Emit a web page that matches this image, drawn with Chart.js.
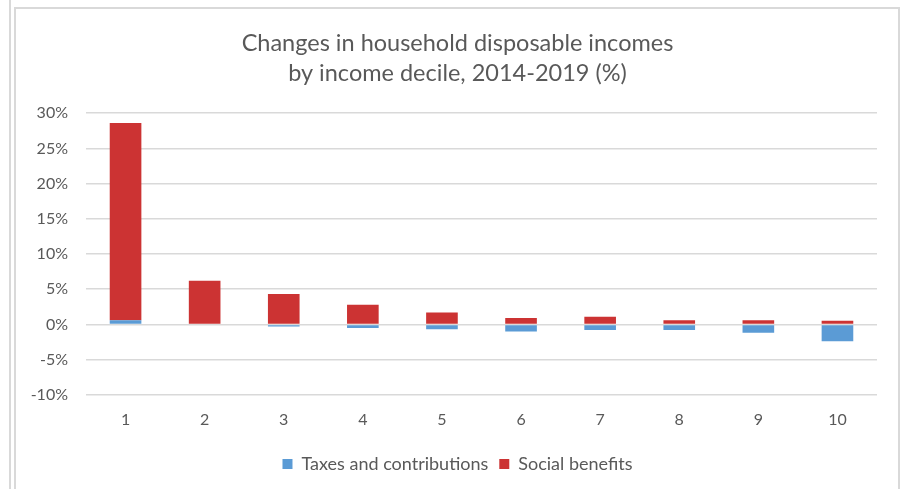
<!DOCTYPE html>
<html>
<head>
<meta charset="utf-8">
<script src="https://cdn.jsdelivr.net/npm/chart.js@4"></script>
<style>
  html, body { margin: 0; padding: 0; background: #fff; }
  #wrap { position: relative; width: 901px; height: 489px; overflow: hidden; }
  .edge { position: absolute; background: #d9d9d9; }
  canvas { position: absolute; left: 0; top: 0; }
</style>
</head>
<body>
<div id="wrap">
  <div class="edge" style="left:9px;top:0;width:2px;height:489px"></div>
  <div class="edge" style="left:14px;top:7px;width:2px;height:482px"></div>
  <div class="edge" style="left:14px;top:7px;width:886px;height:2px"></div>
  <div class="edge" style="left:898px;top:7px;width:2px;height:482px"></div>
  <canvas id="c" width="901" height="489"></canvas>
</div>
<script>
// Income deciles
const deciles = ['1', '2', '3', '4', '5', '6', '7', '8', '9', '10'];
// Contribution of taxes and contributions (percentage points)
const taxes = [0.6, 0.0, -0.3, -0.5, -0.7, -1.0, -0.8, -0.8, -1.2, -2.4];
// Contribution of social benefits (percentage points)
const benefits = [28.0, 6.2, 4.3, 2.8, 1.7, 0.9, 1.1, 0.6, 0.6, 0.5];
// Value axis ticks
const yTicks = [-10, -5, 0, 5, 10, 15, 20, 25, 30];

const textColor = '#595959';
const gridColor = '#d9d9d9';
const fontFamily = 'Lato, "Open Sans", sans-serif';

new Chart(document.getElementById('c'), {
  type: 'bar',
  data: {
    labels: deciles,
    datasets: [
      { label: 'Taxes and contributions', data: taxes, backgroundColor: '#5B9BD5',
        barPercentage: 0.4, categoryPercentage: 1.0 },
      { label: 'Social benefits', data: benefits, backgroundColor: '#CC3333',
        barPercentage: 0.4, categoryPercentage: 1.0 }
    ]
  },
  options: {
    responsive: false,
    animation: false,
    layout: { padding: { left: 14, right: 0, top: 0, bottom: 6 } },
    plugins: {
      title: {
        display: true,
        text: ['Changes in household disposable incomes', 'by income decile, 2014-2019 (%)'],
        color: textColor,
        font: { family: fontFamily, size: 23.5, weight: 'normal', lineHeight: 1.28 },
        padding: { top: 28, bottom: 25 }
      },
      legend: {
        position: 'bottom',
        labels: {
          color: textColor,
          boxWidth: 10,
          boxHeight: 10,
          padding: 11,
          font: { family: fontFamily, size: 18 }
        }
      },
      tooltip: { enabled: false }
    },
    scales: {
      x: {
        stacked: true,
        grid: { display: false, drawTicks: false },
        border: { display: false },
        ticks: { color: textColor, font: { family: fontFamily, size: 16 }, padding: 15 }
      },
      y: {
        stacked: true,
        min: yTicks[0],
        max: yTicks[yTicks.length - 1],
        afterBuildTicks: (scale) => { scale.ticks = yTicks.map(v => ({ value: v })); },
        afterFit: (scale) => { scale.width = 72; },
        grid: { color: gridColor, lineWidth: 1.5, drawTicks: false },
        border: { display: false },
        ticks: {
          color: textColor,
          font: { family: fontFamily, size: 16 },
          padding: 18,
          callback: (v) => v + '%'
        }
      },
      // empty right-hand margin between the plot and the frame
      gutter: {
        type: 'linear',
        position: 'right',
        afterFit: (scale) => { scale.width = 24; },
        grid: { display: false, drawTicks: false },
        border: { display: false },
        ticks: { display: false }
      }
    }
  }
});
</script>
</body>
</html>
